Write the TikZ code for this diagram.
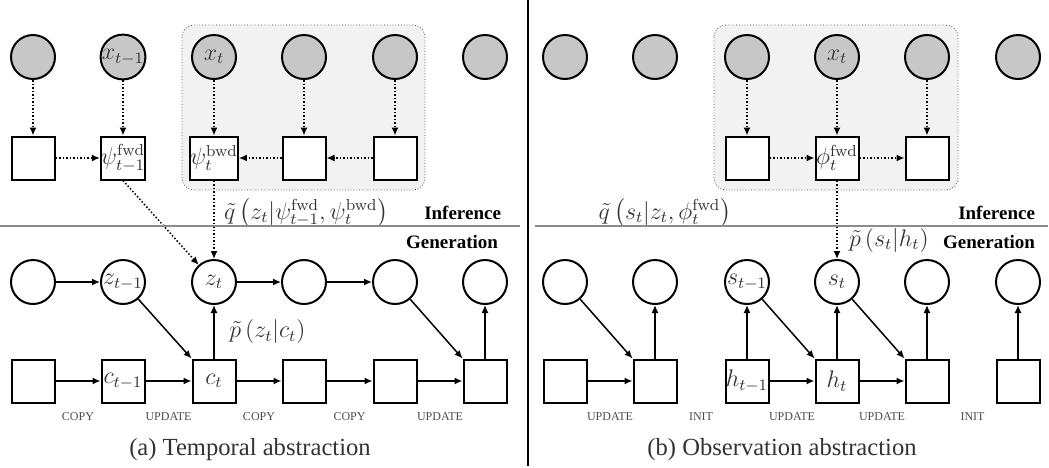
\documentclass[tikz,border=0pt]{standalone}
\usepackage[no-math]{fontspec}
\setmainfont{Liberation Serif}
\usepackage{amsmath}
\usetikzlibrary{arrows.meta,calc,positioning}

\begin{document}
\begin{tikzpicture}[x=0.5pt,y=-0.5pt,
    every node/.append style={font=\fontsize{12}{14}\selectfont,text=black!80},
    obs/.style={circle,draw,line width=1pt,fill=black!22,minimum size=22pt,inner sep=0pt},
    lat/.style={circle,draw,line width=1pt,fill=white,minimum size=22pt,inner sep=0pt},
    det/.style={rectangle,draw,line width=1pt,fill=white,minimum size=21.5pt,inner sep=0pt},
    gen/.style={-{Latex[length=4pt,width=3.5pt]},line width=0.75pt},
    inf/.style={gen,densely dotted},
    dist/.style={font=\fontsize{11.5}{13}\selectfont},
    opname/.style={font=\fontsize{6}{7}\selectfont,text=black!70},
    part/.style={font=\bfseries\fontsize{9.5}{11}\selectfont,text=black,anchor=east},
    sep/.style={draw=black!45,line width=1pt},
    plate/.style={draw=black!70,densely dotted,rounded corners=6pt,fill=black!5}]
  \useasboundingbox (0,0) rectangle (1049,467);

  % (a) temporal abstraction
  \draw[plate] (182,25) rectangle (425,190);
  \foreach \i/\xx/\lab in {0/33/,1/123/x_{t-1},2/214/x_t,3/304/,4/395/,5/485/}
    \node[obs] (xa\i) at (\xx,57) {$\lab$};
  \foreach \i/\xx/\lab in {0/33/,1/123/\psi^{\mathrm{fwd}}_{t-1},2/214/\psi^{\mathrm{bwd}}_t,3/304/,4/395/}
    \node[det] (sa\i) at (\xx,158) {$\lab$};
  \foreach \i/\xx/\lab in {0/33/,1/123/z_{t-1},2/214/z_t,3/304/,4/395/,5/485/}
    \node[lat] (za\i) at (\xx,282) {$\lab$};
  \foreach \i/\xx/\lab in {0/33/,1/123/c_{t-1},2/214/c_t,3/304/,4/395/,5/485/}
    \node[det] (ca\i) at (\xx,381) {$\lab$};

  \foreach \i in {0,...,4}
    \draw[inf] (xa\i) -- (sa\i);
  \draw[inf] (sa0) -- (sa1);
  \draw[inf] (sa4) -- (sa3);
  \draw[inf] (sa3) -- (sa2);
  \draw[inf] (sa1.south) -- (za2);
  \draw[inf] (sa2) -- (za2);

  \foreach \i/\j in {0/1,1/2,2/3,3/4,4/5}
    \draw[gen] (ca\i) -- (ca\j);
  \draw[gen] (za0) -- (za1);
  \draw[gen] (za2) -- (za3);
  \draw[gen] (za3) -- (za4);
  \draw[gen] (za1) -- (ca2.north west);
  \draw[gen] (za4) -- (ca5.north west);
  \draw[gen] (ca2) -- (za2) node[dist,midway,right=4pt] (pa) {$\tilde p\left(z_t|c_t\right)$};
  \draw[gen] (ca5) -- (za5);

  \foreach \i/\j/\op in {0/1/COPY,1/2/UPDATE,2/3/COPY,3/4/COPY,4/5/UPDATE}
    \node[opname] (opa\i) at ($(ca\i)!.5!(ca\j)+(0,36)$) {\op};

  \node[dist,anchor=west] (qa) at (217,213) {$\tilde q\left(z_t|\psi^{\mathrm{fwd}}_{t-1},\psi^{\mathrm{bwd}}_t\right)$};
  \draw[sep] (0,226) -- (520,226);
  \node[part] (infa) at (508,213) {Inference};
  \node[part] (gena) at (505,242) {Generation};
  \node (capa) at (250,450) {\rmfamily\fontsize{12.3}{14}\selectfont(a) Temporal abstraction};

  \draw[line width=0.8pt] (528,0) -- (528,466);

  % (b) observation abstraction
  \draw[plate] (714,25) rectangle (958,190);
  \foreach \i/\xx/\lab in {0/565/,1/655/,2/747/,3/837/x_t,4/927/,5/1018/}
    \node[obs] (xb\i) at (\xx,57) {$\lab$};
  \foreach \i/\xx/\lab in {2/747/,3/837/\phi^{\mathrm{fwd}}_t,4/927/}
    \node[det] (sb\i) at (\xx,158) {$\lab$};
  \foreach \i/\xx/\lab in {0/565/,1/655/,2/747/s_{t-1},3/837/s_t,4/927/,5/1018/}
    \node[lat] (zb\i) at (\xx,282) {$\lab$};
  \foreach \i/\xx/\lab in {0/565/,1/655/,2/747/h_{t-1},3/837/h_t,4/927/,5/1018/}
    \node[det] (cb\i) at (\xx,381) {$\lab$};

  \foreach \i in {2,3,4}
    \draw[inf] (xb\i) -- (sb\i);
  \draw[inf] (sb2) -- (sb3);
  \draw[inf] (sb3) -- (sb4);
  \draw[inf] (sb3) -- (zb3);

  \draw[gen] (cb0) -- (cb1);
  \draw[gen] (cb2) -- (cb3);
  \draw[gen] (cb3) -- (cb4);
  \draw[gen] (zb0) -- (cb1.north west);
  \draw[gen] (zb2) -- (cb3.north west);
  \draw[gen] (zb3) -- (cb4.north west);
  \foreach \i in {1,...,5}
    \draw[gen] (cb\i) -- (zb\i);

  \foreach \i/\j/\op in {0/1/UPDATE,1/2/INIT,2/3/UPDATE,3/4/UPDATE,4/5/INIT}
    \node[opname] (opb\i) at ($(cb\i)!.5!(cb\j)+(0,36)$) {\op};

  \node[dist] (qb) at (665,213) {$\tilde q\left(s_t|z_t,\phi^{\mathrm{fwd}}_t\right)$};
  \node[dist,anchor=west] (pb) at (842,240) {$\tilde p\left(s_t|h_t\right)$};
  \draw[sep] (535,226) -- (1048,226);
  \node[part] (infb) at (1042,213) {Inference};
  \node[part] (genb) at (1042,242) {Generation};
  \node (capb) at (782,450) {\rmfamily\fontsize{12.3}{14}\selectfont(b) Observation abstraction};
\end{tikzpicture}
\end{document}
